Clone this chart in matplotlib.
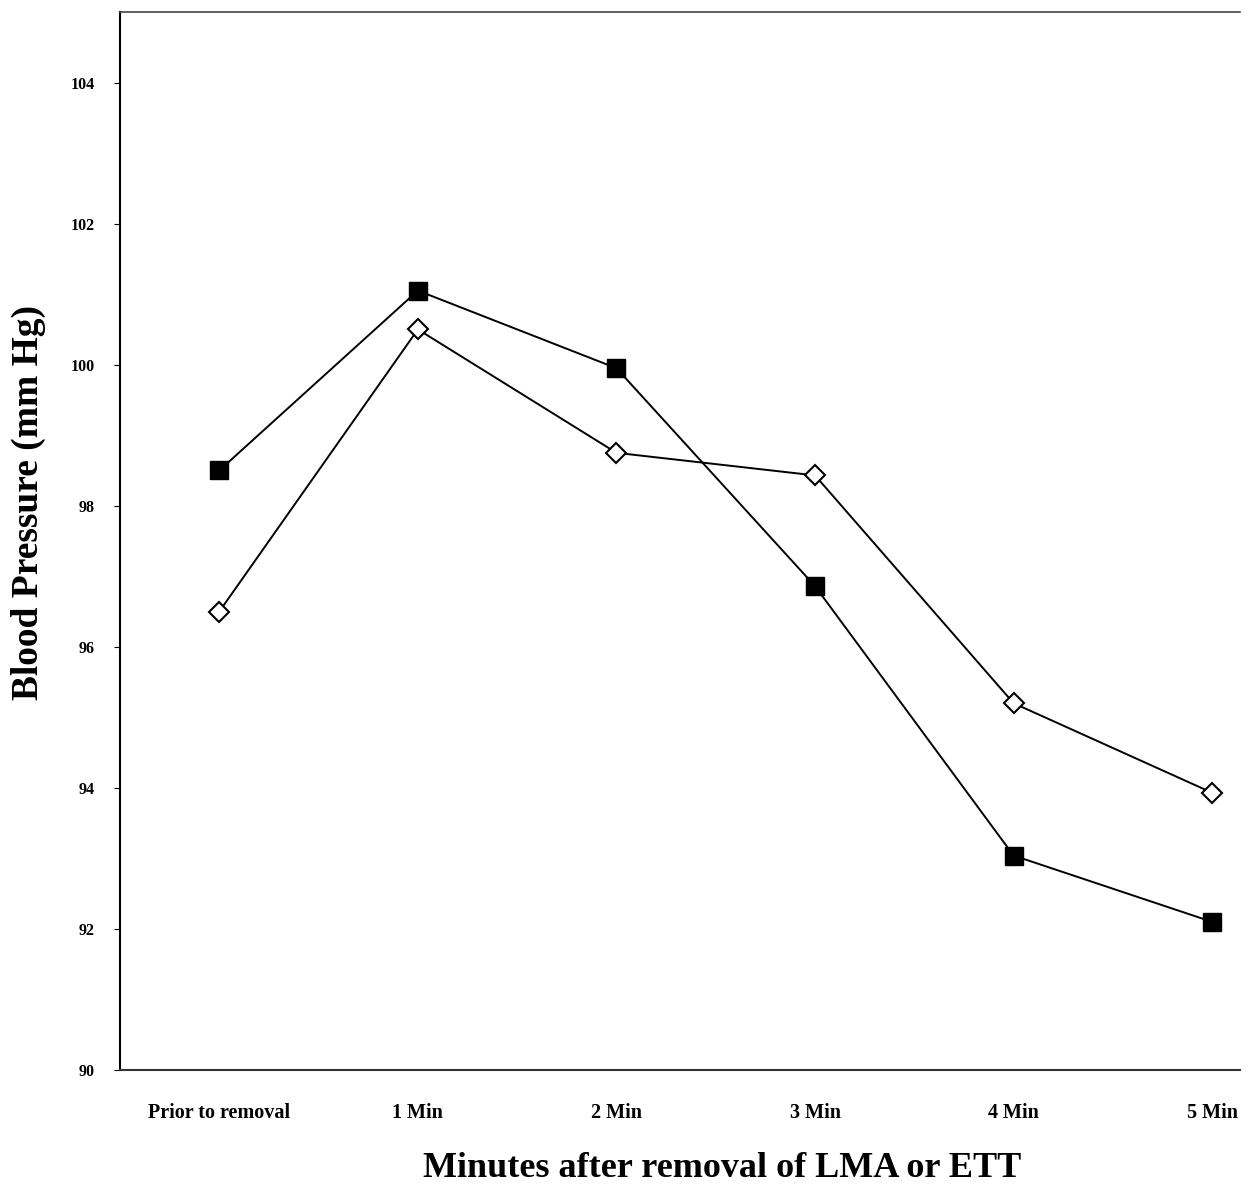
import matplotlib
matplotlib.use("Agg")
import matplotlib.pyplot as plt

categories = ["Prior to removal", "1 Min", "2 Min", "3 Min", "4 Min", "5 Min"]
filled_series = [98.5, 101.05, 99.95, 96.86, 93.04, 92.1]
open_series = [96.5, 100.5, 98.75, 98.43, 95.2, 93.93]
yticks = [90, 92, 94, 96, 98, 100, 102, 104]

fig = plt.figure(figsize=(12.49, 11.97), dpi=100)
ax = fig.add_axes([120/1249, 1 - 1070/1197, (1240-120)/1249, (1070-12)/1197])

x = list(range(len(categories)))
ax.plot(x, filled_series, color="black", lw=1.4, marker="s", ms=13,
        mfc="black", mec="black", zorder=3)
ax.plot(x, open_series, color="black", lw=1.4, marker="D", ms=10,
        mfc="white", mec="black", mew=1.5, zorder=3)

ax.set_xlim(-0.5, 5.14)
ax.set_ylim(90, 105)
ax.set_xticks(x)
ax.set_xticklabels(categories)
ax.set_yticks(yticks)
ax.set_yticklabels([str(t) for t in yticks])

serif = ["Liberation Serif", "DejaVu Serif"]
for lab in ax.get_xticklabels() + ax.get_yticklabels():
    lab.set_family(serif)
    lab.set_fontweight("bold")
for lab in ax.get_xticklabels():
    lab.set_fontsize(14.5)
for lab in ax.get_yticklabels():
    lab.set_fontsize(11.5)

ax.tick_params(axis="x", length=0, pad=24)
ax.tick_params(axis="y", length=4, pad=14, direction="out")

ax.spines["right"].set_visible(False)
ax.spines["top"].set_color("#444444")
ax.spines["top"].set_linewidth(1.2)
ax.spines["left"].set_linewidth(1.5)
ax.spines["bottom"].set_linewidth(1.5)
ax.spines["bottom"].set_color("#333333")

ax.set_xlabel("Minutes after removal of LMA or ETT", family=serif,
              fontweight="bold", fontsize=26)
ax.xaxis.set_label_coords((722-120)/1120, -(1152-1070)/1058)
ax.set_ylabel("Blood Pressure (mm Hg)", family=serif,
              fontweight="bold", fontsize=27)
ax.yaxis.set_label_coords(-(120-46)/1120, (1070-502)/1058)

fig.savefig("out.png", dpi=100)
